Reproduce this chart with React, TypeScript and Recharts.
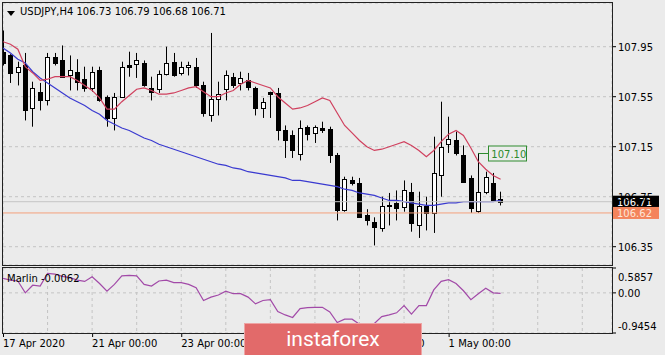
import { ComposedChart, Bar, Line, XAxis, YAxis, CartesianGrid, ReferenceLine, ReferenceDot } from 'recharts';

// USDJPY H4 bars, 17 Apr 2020 .. 4 May 2020
const opens = [107.91, 107.88, 107.75, 107.80, 107.46, 107.59, 107.52, 107.87, 107.84, 107.72, 107.75, 107.69, 107.62, 107.76, 107.55, 107.38, 107.55, 107.80, 107.81, 107.82, 107.62, 107.61, 107.73, 107.83, 107.74, 107.79, 107.79, 107.64, 107.40, 107.53, 107.61, 107.71, 107.66, 107.68, 107.62, 107.46, 107.585, 107.58, 107.28, 107.24, 107.09, 107.31, 107.26, 107.30, 107.29, 107.08, 106.64, 106.88, 106.86, 106.60, 106.55, 106.50, 106.68, 106.70, 106.665, 106.79, 106.52, 106.675, 106.62, 106.92, 107.17, 107.20, 107.08, 106.90, 106.635, 106.79, 106.86, 106.73];
const highs = [108.08, 107.89, 107.83, 107.90, 107.67, 107.66, 107.90, 107.90, 107.96, 107.88, 107.85, 107.79, 107.79, 107.79, 107.56, 107.58, 107.83, 107.91, 107.90, 107.84, 107.71, 107.76, 107.95, 107.90, 107.83, 107.83, 107.86, 107.67, 108.06, 107.67, 107.76, 107.74, 107.75, 107.74, 107.63, 107.54, 107.59, 107.62, 107.32, 107.28, 107.36, 107.32, 107.32, 107.35, 107.31, 107.10, 106.91, 106.91, 106.90, 106.65, 106.585, 106.75, 106.78, 106.80, 106.88, 106.86, 106.79, 106.75, 107.23, 107.51, 107.39, 107.27, 107.16, 106.92, 107.10, 106.95, 106.94, 106.79];
const lows = [107.80, 107.66, 107.64, 107.36, 107.31, 107.44, 107.48, 107.80, 107.70, 107.60, 107.60, 107.59, 107.59, 107.51, 107.31, 107.28, 107.54, 107.71, 107.70, 107.63, 107.52, 107.58, 107.72, 107.71, 107.72, 107.72, 107.62, 107.39, 107.35, 107.40, 107.52, 107.62, 107.60, 107.60, 107.40, 107.38, 107.38, 107.20, 107.06, 107.06, 107.04, 107.20, 107.18, 107.26, 107.02, 106.56, 106.63, 106.84, 106.58, 106.52, 106.36, 106.47, 106.52, 106.56, 106.63, 106.47, 106.42, 106.48, 106.46, 106.75, 107.10, 107.08, 106.87, 106.62, 106.62, 106.77, 106.71, 106.68];
const closes = [107.82, 107.74, 107.79, 107.44, 107.62, 107.52, 107.87, 107.82, 107.71, 107.76, 107.67, 107.62, 107.75, 107.52, 107.38, 107.55, 107.79, 107.79, 107.84, 107.64, 107.59, 107.73, 107.82, 107.72, 107.79, 107.80, 107.64, 107.42, 107.53, 107.57, 107.72, 107.64, 107.70, 107.63, 107.46, 107.51, 107.575, 107.28, 107.20, 107.12, 107.30, 107.25, 107.31, 107.28, 107.08, 106.64, 106.89, 106.86, 106.585, 106.56, 106.51, 106.675, 106.685, 106.66, 106.80, 106.54, 106.675, 106.62, 106.94, 107.15, 107.21, 107.10, 106.87, 106.66, 106.79, 106.905, 106.72, 106.71];

// moving averages
const fastMa = [107.99, 107.97, 107.93, 107.79, 107.74, 107.68, 107.69, 107.71, 107.71, 107.71, 107.68, 107.64, 107.60, 107.54, 107.45, 107.45, 107.51, 107.56, 107.61, 107.62, 107.60, 107.57, 107.57, 107.58, 107.60, 107.62, 107.63, 107.59, 107.55, 107.55, 107.58, 107.60, 107.65, 107.68, 107.66, 107.64, 107.62, 107.55, 107.50, 107.45, 107.46, 107.48, 107.51, 107.54, 107.52, 107.42, 107.32, 107.26, 107.20, 107.15, 107.12, 107.13, 107.15, 107.17, 107.19, 107.16, 107.12, 107.07, 107.12, 107.19, 107.25, 107.28, 107.24, 107.14, 107.03, 106.97, 106.92, 106.89];
const slowMa = [107.94, 107.90, 107.85, 107.82, 107.75, 107.70, 107.66, 107.62, 107.58, 107.54, 107.51, 107.48, 107.44, 107.41, 107.36, 107.33, 107.30, 107.28, 107.25, 107.22, 107.20, 107.17, 107.15, 107.13, 107.11, 107.09, 107.07, 107.05, 107.03, 107.01, 107.00, 106.98, 106.97, 106.95, 106.94, 106.93, 106.92, 106.91, 106.90, 106.88, 106.88, 106.87, 106.86, 106.85, 106.84, 106.83, 106.81, 106.80, 106.78, 106.77, 106.76, 106.74, 106.72, 106.72, 106.71, 106.70, 106.69, 106.68, 106.68, 106.69, 106.70, 106.70, 106.71, 106.71, 106.71, 106.71, 106.71, 106.72];
const marlin = [0.34, 0.30, 0.28, 0.00, 0.18, 0.16, 0.46, 0.44, 0.39, 0.36, 0.30, 0.27, 0.38, 0.22, 0.04, 0.20, 0.40, 0.41, 0.40, 0.20, 0.16, 0.28, 0.30, 0.24, 0.24, 0.20, 0.12, -0.18, -0.10, -0.05, 0.04, -0.02, -0.02, -0.10, -0.26, -0.18, -0.16, -0.44, -0.52, -0.58, -0.37, -0.35, -0.34, -0.34, -0.45, -0.70, -0.62, -0.62, -0.74, -0.80, -0.72, -0.56, -0.52, -0.47, -0.30, -0.50, -0.30, -0.30, 0.07, 0.27, 0.31, 0.22, 0.05, -0.16, -0.02, 0.11, 0.00, -0.01];

const priceTicks = [106.35, 106.75, 107.15, 107.55, 107.95];
const marlinTicks = [0.5857, 0, -0.9454];
const gridBars = [0, 6, 12, 18, 24, 30, 36, 42, 48, 54, 60, 66, 72, 78];
const timeLabels: Record<number, string> = {
  0: '17 Apr 2020',
  12: '21 Apr 00:00',
  24: '23 Apr 00:00',
  36: '27 Apr 00:00',
  48: '29 Apr 00:00',
  60: '1 May 00:00',
};
const bidPrice = 106.71;
const linePrice = 106.62;
const markBar = 64;
const markPrice = 107.1;

const data = opens.map((o, i) => ({
  i,
  o,
  h: highs[i],
  l: lows[i],
  c: closes[i],
  range: [lows[i], highs[i]],
  fast: fastMa[i],
  slow: slowMa[i],
  marlin: marlin[i],
}));

const font = '"DejaVu Sans", sans-serif';

function Candle(props: any) {
  const { x, y, width, height, payload } = props;
  if (x == null || !payload) return null;
  const top = height >= 0 ? y : y + height;
  const hpx = Math.abs(height);
  const k = hpx / (payload.h - payload.l);
  const cx = Math.round(x + width / 2) + 0.5;
  const yo = top + (payload.h - payload.o) * k;
  const yc = top + (payload.h - payload.c) * k;
  const b0 = Math.round(Math.min(yo, yc)) + 0.5;
  const b1 = Math.max(Math.round(Math.max(yo, yc)) + 0.5, b0 + 1);
  const up = payload.c >= payload.o;
  return (
    <g>
      <line x1={cx} x2={cx} y1={top} y2={top + hpx} stroke="#000" strokeWidth={1} />
      <rect x={cx - 2} y={b0} width={4} height={b1 - b0} fill={up ? '#fff' : '#000'} stroke="#000" strokeWidth={1} />
    </g>
  );
}

function PriceTick(props: any) {
  const { x, y, payload } = props;
  return (
    <text x={x} y={y} dy={4} fontFamily={font} fontSize={10} fill="#000" textAnchor="start">
      {payload.value.toFixed(2)}
    </text>
  );
}

function MarlinTick(props: any) {
  const { x, y, payload } = props;
  const v = payload.value;
  const dy = v > 0.1 ? 13 : v < -0.1 ? -3 : 4;
  return (
    <text x={x} y={y} dy={dy} fontFamily={font} fontSize={10} fill="#000" textAnchor="start">
      {v === 0 ? '0.00' : v.toFixed(4)}
    </text>
  );
}

function TimeTick(props: any) {
  const { x, y, payload } = props;
  const label = timeLabels[payload.value];
  if (!label) return null;
  return (
    <g>
      <line x1={x + 0.5} x2={x + 0.5} y1={y - 6} y2={y - 2} stroke="#000" />
      <text x={x} y={y} dy={8} fontFamily={font} fontSize={10} fill="#000" textAnchor="start">
        {label}
      </text>
    </g>
  );
}

function PriceBox(fill: string, color: string, text: string) {
  return (props: any) => {
    const vb = props.viewBox;
    if (!vb) return null;
    const x = vb.x + vb.width + 1;
    const y = vb.y;
    return (
      <g>
        <rect x={x} y={y - 6} width={46} height={12} fill={fill} />
        <text x={x + 4} y={y + 4} fontFamily={font} fontSize={10} fill={color}>
          {text}
        </text>
      </g>
    );
  };
}

function MarkLabel(props: any) {
  const { cx, cy } = props;
  if (cx == null) return null;
  const y = Math.round(cy) + 0.5;
  return (
    <g>
      <line x1={cx} x2={cx + 10} y1={y} y2={y} stroke="#2e8b2e" />
      <rect x={Math.round(cx) + 10.5} y={y - 7.5} width={38} height={15} fill="#ececec" stroke="#2e8b2e" />
      <text x={cx + 13} y={y + 4} fontFamily={font} fontSize={10} fill="#2e8b2e">
        {markPrice.toFixed(2)}
      </text>
    </g>
  );
}

export default function App() {
  const last = data[data.length - 1];
  return (
    <div style={{ position: 'relative', width: 665, height: 355, background: '#ebebeb', overflow: 'hidden' }}>
      <style>{'body{margin:0;background:#ebebeb}'}</style>
      <div style={{ position: 'absolute', left: 0, top: 0 }}>
        <ComposedChart width={665} height={268} data={data} margin={{ top: 3, right: 0, bottom: 3, left: 3 }}>
          <CartesianGrid stroke="#c4c4c4" strokeDasharray="3 3" />
          <XAxis dataKey="i" type="number" domain={[0, 82]} ticks={gridBars} height={0} tick={false} tickLine={false} axisLine={false} allowDataOverflow />
          <YAxis
            orientation="right"
            width={53}
            domain={[106.2036, 108.2996]}
            ticks={priceTicks}
            interval={0}
            tick={<PriceTick />}
            tickSize={4}
            tickMargin={2}
            tickLine={{ stroke: '#000' }}
            axisLine={false}
            allowDataOverflow
          />
          <Bar dataKey="range" barSize={5} shape={<Candle />} isAnimationActive={false} />
          <Line dataKey="slow" type="linear" stroke="#3a3ad0" strokeWidth={1.2} dot={false} isAnimationActive={false} />
          <Line dataKey="fast" type="linear" stroke="#d0405e" strokeWidth={1.2} dot={false} isAnimationActive={false} />
          <ReferenceLine y={bidPrice} stroke="#c6c6c6" label={PriceBox('#000', '#fff', last.c.toFixed(2))} />
          <ReferenceLine y={linePrice} stroke="#f4a07c" label={PriceBox('#f4845c', '#fde6da', linePrice.toFixed(2))} />
          <ReferenceDot x={markBar} y={markPrice} shape={<MarkLabel />} />
        </ComposedChart>
      </div>
      <div style={{ position: 'absolute', left: 0, top: 266 }}>
        <ComposedChart width={665} height={89} data={data} margin={{ top: 2, right: 0, bottom: 0, left: 3 }}>
          <CartesianGrid stroke="#c4c4c4" strokeDasharray="3 3" />
          <XAxis
            dataKey="i"
            type="number"
            domain={[0, 82]}
            ticks={gridBars}
            interval={0}
            height={22}
            tick={<TimeTick />}
            tickSize={4}
            tickMargin={2}
            tickLine={false}
            axisLine={false}
            allowDataOverflow
          />
          <YAxis
            orientation="right"
            width={53}
            domain={[-0.9454, 0.5857]}
            ticks={marlinTicks}
            interval={0}
            tick={<MarlinTick />}
            tickSize={4}
            tickMargin={2}
            tickLine={{ stroke: '#000' }}
            axisLine={false}
            allowDataOverflow
          />
          <Line dataKey="marlin" type="linear" stroke="#a24aa8" strokeWidth={1.2} dot={false} isAnimationActive={false} />
        </ComposedChart>
      </div>
      <div style={{ position: 'absolute', left: 2, top: 2, width: 609, height: 262, border: '1px solid #222', pointerEvents: 'none' }} />
      <div style={{ position: 'absolute', left: 2, top: 267, width: 609, height: 65, border: '1px solid #222', pointerEvents: 'none' }} />
      <div style={{ position: 'absolute', left: 7, top: 11, width: 0, height: 0, borderLeft: '4px solid transparent', borderRight: '4px solid transparent', borderTop: '5px solid #000' }} />
      <div style={{ position: 'absolute', left: 20, top: 6, fontFamily: font, fontSize: 10, color: '#000', whiteSpace: 'pre' }}>
        {`USDJPY,H4 ${opens[opens.length - 1].toFixed(2)} ${highs[highs.length - 1].toFixed(2)} ${lows[lows.length - 1].toFixed(2)} ${closes[closes.length - 1].toFixed(2)}`}
      </div>
      <div style={{ position: 'absolute', left: 7, top: 273, fontFamily: font, fontSize: 10, color: '#000', whiteSpace: 'pre' }}>
        Marlin -0.0062
      </div>
      <div
        style={{
          position: 'absolute',
          left: 244,
          top: 323,
          width: 176,
          height: 32,
          background: '#e26a6a',
          border: '1px solid #eea4a4',
          color: '#fff',
          fontFamily: 'Roboto, sans-serif',
          fontSize: 21,
          lineHeight: '30px',
          textAlign: 'center',
        }}
      >
        instaforex
      </div>
    </div>
  );
}
